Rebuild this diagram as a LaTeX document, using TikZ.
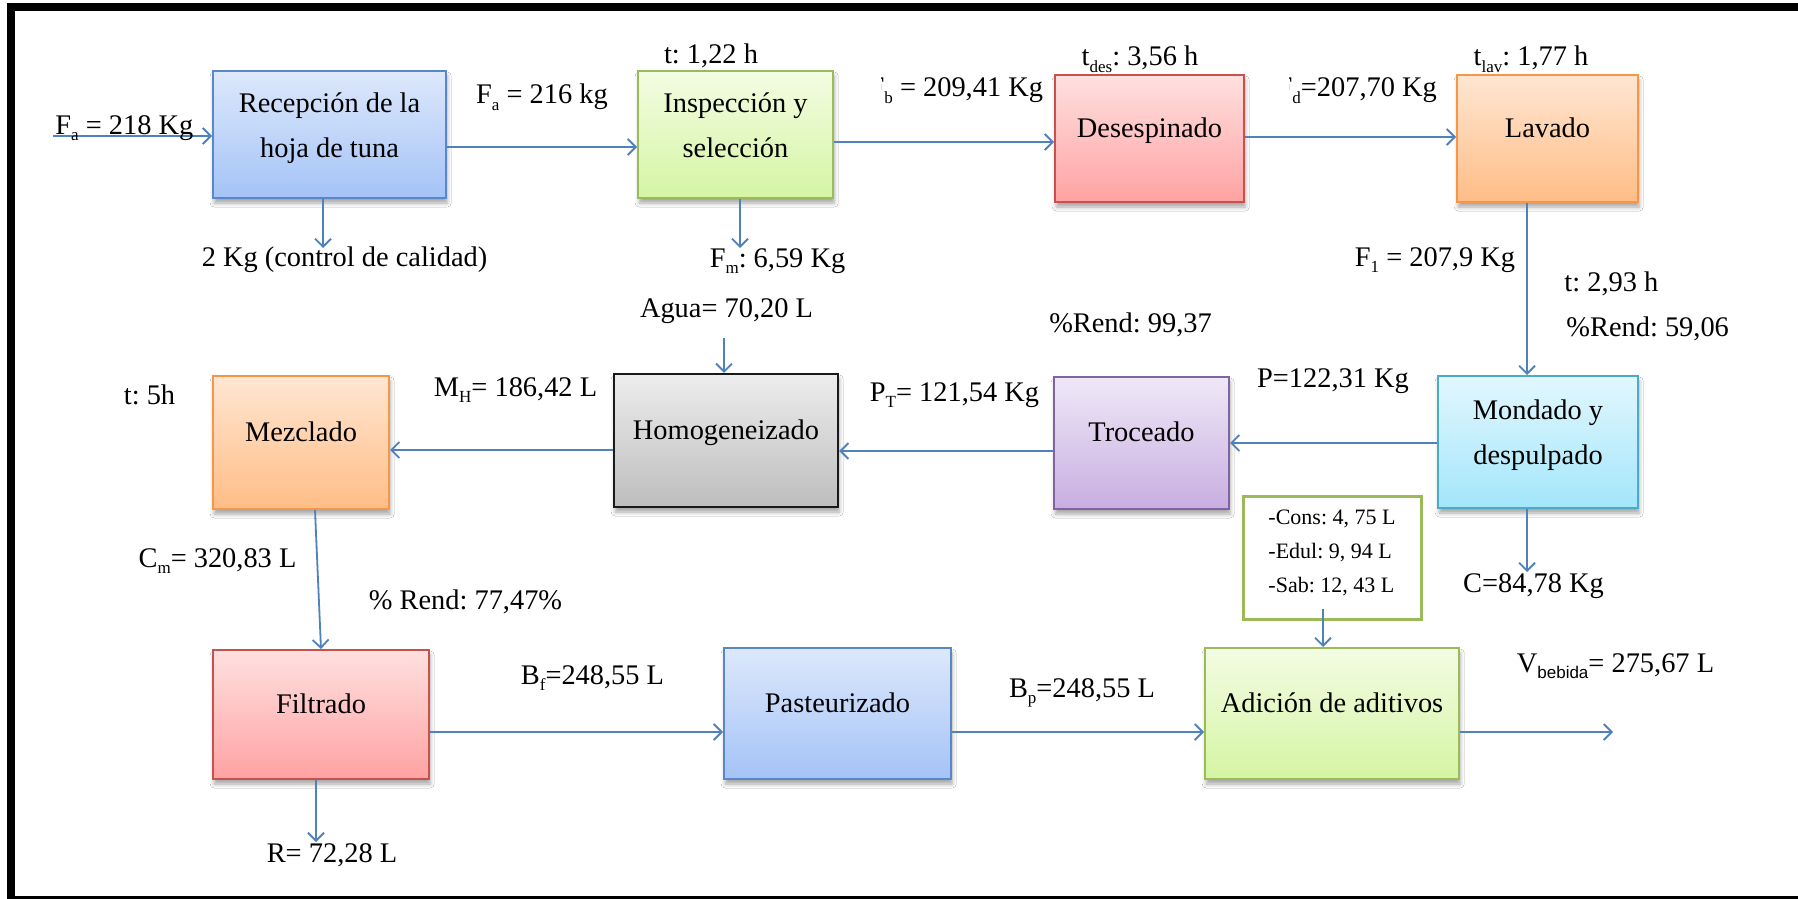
\documentclass[tikz,border=0pt]{standalone}
\usepackage{fontspec}
\setmainfont{Liberation Serif}
\newfontfamily\subsans{Liberation Sans}
\usetikzlibrary{arrows.meta,shadows.blur}
\frenchspacing

\definecolor{arrowc}{HTML}{4F81BD}
\definecolor{bluetop}{HTML}{DDE8FB}\definecolor{bluebot}{HTML}{A4C3F7}\definecolor{blueline}{HTML}{5A87C8}
\definecolor{greentop}{HTML}{F3FCE3}\definecolor{greenbot}{HTML}{D5F5A3}\definecolor{greenline}{HTML}{9BBB59}
\definecolor{redtop}{HTML}{FFE0E0}\definecolor{redbot}{HTML}{FFA2A2}\definecolor{redline}{HTML}{C8504D}
\definecolor{orangetop}{HTML}{FFE6D2}\definecolor{orangebot}{HTML}{FFBD86}\definecolor{orangeline}{HTML}{F79646}
\definecolor{purpletop}{HTML}{EFE8F7}\definecolor{purplebot}{HTML}{C8AEE0}\definecolor{purpleline}{HTML}{8064A2}
\definecolor{cyantop}{HTML}{E2F7FD}\definecolor{cyanbot}{HTML}{A3E6FB}\definecolor{cyanline}{HTML}{4BACC6}
\definecolor{greytop}{HTML}{EDEDED}\definecolor{greybot}{HTML}{BDBDBD}\definecolor{greyline}{HTML}{1A1A1A}

\newcommand\lblfont{\fontsize{14.2}{22.5}\selectfont}
\newcommand\advfont{\fontsize{11}{17}\selectfont}
\newcommand\sbs[1]{\raisebox{-0.22em}{\fontsize{8.5}{8.5}\selectfont #1}}

\begin{document}
\begin{tikzpicture}[x=0.5pt,y=-0.5pt,
  proc/.style={draw, line width=1pt, align=center, font=\lblfont, inner sep=0pt,
    blur shadow={shadow xshift=0.6pt, shadow yshift=-2.5pt, shadow blur radius=2pt, shadow opacity=35}},
  one/.style={text height=10pt, text depth=11.5pt},
  two/.style={text height=32.5pt, text depth=10pt},
  bluebox/.style={proc, draw=blueline, top color=bluetop, bottom color=bluebot},
  greenbox/.style={proc, draw=greenline, top color=greentop, bottom color=greenbot},
  redbox/.style={proc, draw=redline, top color=redtop, bottom color=redbot},
  orangebox/.style={proc, draw=orangeline, top color=orangetop, bottom color=orangebot},
  purplebox/.style={proc, draw=purpleline, top color=purpletop, bottom color=purplebot},
  cyanbox/.style={proc, draw=cyanline, top color=cyantop, bottom color=cyanbot},
  greybox/.style={proc, draw=greyline, line width=1.2pt, top color=greytop, bottom color=greybot},
  addbox/.style={draw=greenline, line width=1.5pt, fill=white, align=left, font=\advfont,
    inner sep=0pt, text height=40pt, text depth=5.5pt},
  lbl/.style={font=\lblfont, inner sep=0pt, anchor=base},
  arr/.style={draw=arrowc, line width=0.9pt, -{Straight Barb[length=4pt,width=8pt]}}
]
\useasboundingbox (0,0) rectangle (1798,899);
\fill[white] (0,0) rectangle (1798,899);
\clip (0,0) rectangle (1798,899);

% process boxes
\node[bluebox, two, minimum width=116.5pt, minimum height=63.5pt] (rec) at (329.5,134.5) {Recepción de la\\hoja de tuna};
\node[greenbox, two, minimum width=97.5pt, minimum height=63.5pt] (ins) at (735.5,134.5) {Inspección y\\selección};
\node[redbox, one, minimum width=94.5pt, minimum height=63.5pt] (des) at (1149.5,138.5) {Desespinado};
\node[orangebox, one, minimum width=90.5pt, minimum height=63.5pt] (lav) at (1547.5,138.5) {Lavado};
\node[cyanbox, two, minimum width=100pt, minimum height=66pt] (mon) at (1538,442) {Mondado y\\despulpado};
\node[purplebox, one, minimum width=87.5pt, minimum height=66pt] (tro) at (1141.5,443) {Troceado};
\node[greybox, one, minimum width=112pt, minimum height=66.5pt] (hom) at (726,440.5) {Homogeneizado};
\node[orangebox, one, minimum width=88pt, minimum height=66.5pt] (mez) at (301,442.5) {Mezclado};
\node[redbox, one, minimum width=108pt, minimum height=64.5pt] (fil) at (321,714.5) {Filtrado};
\node[bluebox, one, minimum width=113.5pt, minimum height=65.5pt] (pas) at (837.5,713.5) {Pasteurizado};
\node[greenbox, one, minimum width=127pt, minimum height=65.5pt] (adi) at (1332,713.5) {Adición de aditivos};
\node[addbox, minimum width=89pt, minimum height=61.5pt] (adv) at (1332,557.5) {-Cons: 4, 75 L\\-Edul: 9, 94 L\\-Sab: 12, 43 L};

% guide coordinates for the connectors
\coordinate (in0) at (53,136);
\coordinate (g1) at (0,147);
\coordinate (g2) at (0,142);
\coordinate (g3) at (0,137);
\coordinate (g4) at (1527,0);
\coordinate (g5) at (0,443);
\coordinate (g6) at (0,451);
\coordinate (g7) at (0,450);
\coordinate (g8) at (315,0);
\coordinate (g9) at (0,732);
\coordinate (out0) at (1613,732);
\coordinate (d1) at (323,248);
\coordinate (d2) at (740,248);
\coordinate (w0) at (724,338);
\coordinate (d3) at (1527,572);
\coordinate (d4) at (316,842);
\coordinate (s5) at (1323,609);

% main flow
\draw[arr] (in0) -- (in0 -| rec.west);
\draw[arr] (rec.east |- g1) -- (ins.west |- g1);
\draw[arr] (ins.east |- g2) -- (des.west |- g2);
\draw[arr] (des.east |- g3) -- (lav.west |- g3);
\draw[arr] (lav.south -| g4) -- (mon.north -| g4);
\draw[arr] (mon.west |- g5) -- (tro.east |- g5);
\draw[arr] (tro.west |- g6) -- (hom.east |- g6);
\draw[arr] (hom.west |- g7) -- (mez.east |- g7);
\draw[arr] (mez.south -| g8) -- (fil.north);
\draw[arr] (fil.east |- g9) -- (pas.west |- g9);
\draw[arr] (pas.east |- g9) -- (adi.west |- g9);
\draw[arr] (adi.east |- out0) -- (out0);

% side streams
\draw[arr] (rec.south -| d1) -- (d1);
\draw[arr] (ins.south -| d2) -- (d2);
\draw[arr] (w0) -- (hom.north -| w0);
\draw[arr] (mon.south -| d3) -- (d3);
\draw[arr] (fil.south -| d4) -- (d4);
\draw[arr] (s5) -- (adi.north -| s5);

% stream labels
\node[lbl, anchor=base west] (lfa) at (55,134) {F\sbs{a} = 218 Kg};
\node[lbl] (lfa2) at (542,104) {F\sbs{a} = 216 kg};
\node[lbl] (lcc) at (344.5,266) {2 Kg (control de calidad)};
\node[lbl] (lt1) at (711,64) {t: 1,22 h};
\node[lbl] (lfm) at (777.5,267) {F\sbs{m}: 6,59 Kg};
\begin{scope}
  \clip (881,60) rectangle (1060,110);
  \node[lbl, anchor=base west] (lfb) at (884,97) {\llap{F}\sbs{b} = 209,41 Kg};
\end{scope}
\node[lbl] (ltd) at (1140,66) {t\sbs{des}: 3,56 h};
\begin{scope}
  \clip (1289,60) rectangle (1450,110);
  \node[lbl, anchor=base west] (lfd) at (1292,97) {\llap{F}\sbs{d}=207,70 Kg};
\end{scope}
\node[lbl] (ltl) at (1531,66) {t\sbs{lav}: 1,77 h};
\node[lbl] (lf1) at (1435,266) {F\sbs{1} = 207,9 Kg};
\node[lbl, anchor=base west] (lt2) at (1564,291) {t: 2,93 h};
\node[lbl, anchor=base west] (lr1) at (1566,336) {\%Rend: 59,06};
\node[lbl] (lp) at (1333,387) {P=122,31 Kg};
\node[lbl] (lc) at (1533.5,592) {C=84,78 Kg};
\node[lbl] (lr2) at (1130.5,332) {\%Rend: 99,37};
\node[lbl] (lpt) at (954.5,401) {P\sbs{T}= 121,54 Kg};
\node[lbl] (lag) at (726.5,317) {Agua= 70,20 L};
\node[lbl] (lmh) at (515.5,396) {M\sbs{H}= 186,42 L};
\node[lbl] (lt5) at (149.5,404) {t: 5h};
\node[lbl] (lcm) at (217.5,567) {C\sbs{m}= 320,83 L};
\node[lbl] (lr3) at (465.5,609) {\% Rend: 77,47\%};
\node[lbl] (lbf) at (592.5,684) {B\sbs{f}=248,55 L};
\node[lbl] (lrr) at (332,862) {R= 72,28 L};
\node[lbl] (lbp) at (1082,697) {B\sbs{p}=248,55 L};
\node[lbl] (lvb) at (1615.5,672) {V\sbs{\subsans bebida}= 275,67 L};

% outer frame
\draw[line width=4pt] (1900,900) -- (11,900) -- (11,7) -- (1900,7);
\end{tikzpicture}
\end{document}
